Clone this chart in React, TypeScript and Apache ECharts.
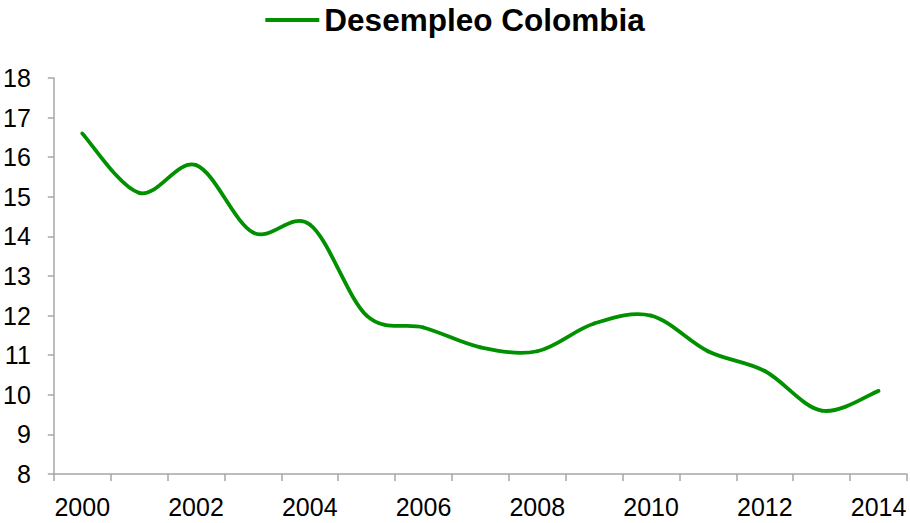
import React, { useEffect, useRef } from "react";
import * as echarts from "echarts";

// Annual unemployment rate, Colombia (%)
const years = [
  "2000", "2001", "2002", "2003", "2004", "2005", "2006", "2007",
  "2008", "2009", "2010", "2011", "2012", "2013", "2014",
];
const unemployment = [
  16.6, 15.1, 15.8, 14.1, 14.3, 12.0, 11.7, 11.2,
  11.1, 11.8, 12.0, 11.1, 10.6, 9.6, 10.1,
];
const seriesName = "Desempleo Colombia";

const FONT = "'Liberation Sans', Arial, Helvetica, sans-serif";
const GREEN = "#009000";
const AXIS = "#a6a6a6";

// Smooth curve through every point (Catmull-Rom turned into cubic Bézier
// segments), one segment per data item, positioned via the chart's own axes.
function renderSegment(params: any, api: any) {
  const n = unemployment.length;
  const i = params.dataIndex;
  if (i >= n - 1) return { type: "group", children: [] };
  const at = (k: number) => {
    const c = Math.max(0, Math.min(n - 1, k));
    return api.coord([c, unemployment[c]]);
  };
  const p0 = at(i - 1);
  const p1 = at(i);
  const p2 = at(i + 1);
  const p3 = at(i + 2);
  const t = 1 / 6;
  return {
    type: "bezierCurve",
    silent: true,
    shape: {
      x1: p1[0],
      y1: p1[1],
      cpx1: p1[0] + (p2[0] - p0[0]) * t,
      cpy1: p1[1] + (p2[1] - p0[1]) * t,
      cpx2: p2[0] - (p3[0] - p1[0]) * t,
      cpy2: p2[1] - (p3[1] - p1[1]) * t,
      x2: p2[0],
      y2: p2[1],
    },
    style: {
      stroke: GREEN,
      lineWidth: 3.8,
      fill: null,
      lineCap: "round",
      lineJoin: "round",
    },
  };
}

export default function App() {
  const ref = useRef<HTMLDivElement>(null);

  useEffect(() => {
    if (!ref.current) return;
    const chart = echarts.init(ref.current, null, { renderer: "svg" });
    chart.setOption({
      animation: false,
      backgroundColor: "#ffffff",
      textStyle: { fontFamily: FONT },
      legend: {
        top: -1,
        left: "center",
        itemWidth: 54,
        itemHeight: 4,
        icon: "rect",
        data: [{ name: seriesName, icon: "rect", itemStyle: { color: GREEN } }],
        textStyle: {
          fontFamily: FONT,
          fontSize: 31.5,
          fontWeight: "bold",
          color: "#000000",
        },
      },
      grid: { left: 52, right: 3, top: 78, bottom: 49, containLabel: false },
      xAxis: {
        type: "category",
        data: years,
        boundaryGap: true,
        axisLine: { lineStyle: { color: AXIS, width: 1.5 } },
        axisTick: {
          show: true,
          interval: 0,
          length: 7,
          lineStyle: { color: AXIS, width: 1.5 },
        },
        axisLabel: {
          interval: 1,
          margin: 20,
          fontFamily: FONT,
          fontSize: 25,
          color: "#000000",
        },
        splitLine: { show: false },
      },
      yAxis: {
        type: "value",
        min: 8,
        max: 18,
        interval: 1,
        axisLine: { show: true, lineStyle: { color: AXIS, width: 1.5 } },
        axisTick: { show: true, length: 6, lineStyle: { color: AXIS, width: 1.5 } },
        axisLabel: {
          margin: 23,
          fontFamily: FONT,
          fontSize: 25,
          color: "#000000",
        },
        splitLine: { show: false },
      },
      series: [
        {
          name: seriesName,
          type: "custom",
          data: unemployment.map((v, i) => [i, v]),
          encode: { x: 0, y: 1 },
          renderItem: renderSegment,
          itemStyle: { color: GREEN },
        },
      ],
    });
    return () => chart.dispose();
  }, []);

  return (
    <div
      ref={ref}
      style={{ position: "fixed", left: 0, top: 0, width: 910, height: 523 }}
    />
  );
}
